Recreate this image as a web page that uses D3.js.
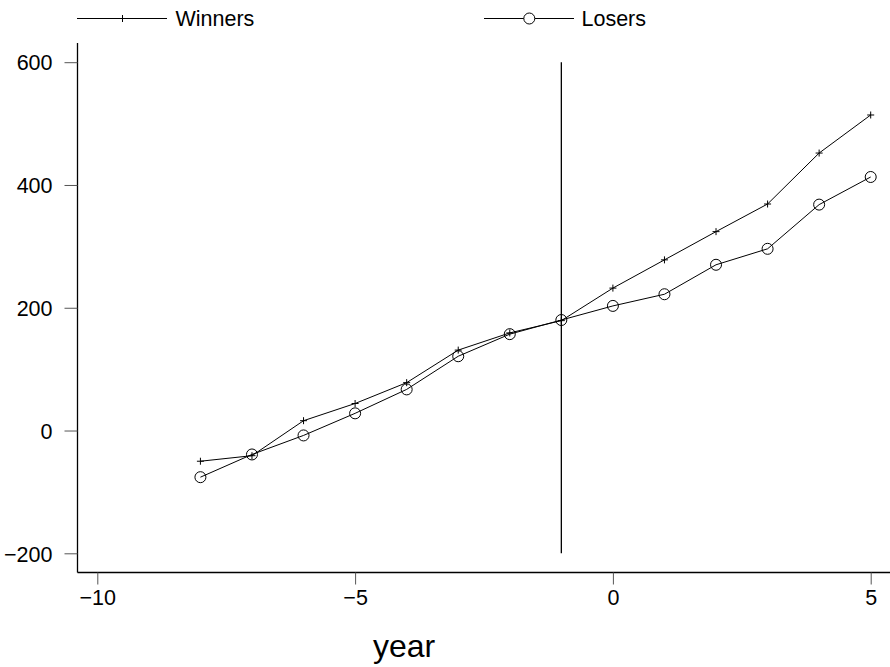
<!DOCTYPE html>
<html>
<head>
<meta charset="utf-8">
<script src="https://cdn.jsdelivr.net/npm/d3@7"></script>
<style>
  html, body { margin: 0; padding: 0; background: #fff; }
  svg { display: block; }
  text { font-family: "Liberation Sans", Arial, Helvetica, sans-serif; fill: #000; }
</style>
</head>
<body>
<svg id="chart" width="890" height="667"></svg>
<script>
const years   = [-8, -7, -6, -5, -4, -3, -2, -1, 0, 1, 2, 3, 4, 5];
const winners = [-50, -41, 16, 44, 78, 131, 159, 179, 232, 278, 324, 369, 452, 514];
const losers  = [-76, -39, -8, 28, 67, 121, 157, 180, 203, 222, 270, 296, 368, 413];
const xTicks  = [-10, -5, 0, 5];
const yTicks  = [-200, 0, 200, 400, 600];
const seriesNames = ["Winners", "Losers"];
const eventYear = -1;
const xLabel = "year";

const svg = d3.select("#chart");
const x = d3.scaleLinear().domain([-10, 5]).range([97.3, 870.7]);
const y = d3.scaleLinear().domain([-200, 600]).range([553.3, 62.2]);
const fmt = d => d < 0 ? "\u2212" + Math.abs(d) : String(d);

// axes lines
const axisX0 = 77.5, axisY0 = 572.5;
svg.append("line").attr("x1", axisX0).attr("x2", axisX0).attr("y1", 43).attr("y2", axisY0)
  .attr("stroke", "#000").attr("stroke-width", 1.3);
svg.append("line").attr("x1", axisX0).attr("x2", 890).attr("y1", axisY0).attr("y2", axisY0)
  .attr("stroke", "#000").attr("stroke-width", 1.3);

// y axis
const yAxis = d3.axisLeft(y).tickValues(yTicks).tickSize(13).tickPadding(12).tickFormat(fmt);
const gy = svg.append("g").attr("transform", `translate(${axisX0},0)`).call(yAxis);
gy.select(".domain").remove();
gy.selectAll(".tick line").attr("stroke", "#555").attr("stroke-width", 1);
gy.selectAll(".tick text").attr("font-size", 21.5).attr("font-family", null).attr("dy", "0.36em");

// x axis
const xAxis = d3.axisBottom(x).tickValues(xTicks).tickSize(12).tickPadding(4).tickFormat(fmt);
const gx = svg.append("g").attr("transform", `translate(0,${axisY0})`).call(xAxis);
gx.select(".domain").remove();
gx.selectAll(".tick line").attr("stroke", "#555").attr("stroke-width", 1);
gx.selectAll(".tick text").attr("font-size", 21.5).attr("font-family", null).attr("dy", "0.78em");

// x label
svg.append("text").attr("x", 404).attr("y", 657).attr("text-anchor", "middle")
  .attr("font-size", 32).text(xLabel);

// vertical reference line
svg.append("line").attr("x1", x(eventYear)).attr("x2", x(eventYear))
  .attr("y1", y(600)).attr("y2", y(-200)).attr("stroke", "#000").attr("stroke-width", 1.3);

const line = d3.line().x((d, i) => x(years[i])).y(d => y(d));

// series lines
svg.append("path").datum(winners).attr("d", line).attr("fill", "none").attr("stroke", "#000").attr("stroke-width", 1);
svg.append("path").datum(losers).attr("d", line).attr("fill", "none").attr("stroke", "#000").attr("stroke-width", 1);

// markers
const plusPath = (cx, cy, s) => `M${cx - s},${cy}H${cx + s}M${cx},${cy - s}V${cy + s}`;
svg.append("g").selectAll("path").data(winners).join("path")
  .attr("d", (d, i) => plusPath(x(years[i]), y(d), 3.5))
  .attr("stroke", "#000").attr("stroke-width", 1).attr("fill", "none");
svg.append("g").selectAll("circle").data(losers).join("circle")
  .attr("cx", (d, i) => x(years[i])).attr("cy", d => y(d)).attr("r", 5.5)
  .attr("fill", "none").attr("stroke", "#000").attr("stroke-width", 1);

// legend
const ly = 18.5;
svg.append("line").attr("x1", 77).attr("x2", 167).attr("y1", ly).attr("y2", ly).attr("stroke", "#000");
svg.append("path").attr("d", plusPath(122.5, ly, 3.5)).attr("stroke", "#000").attr("fill", "none");
svg.append("text").attr("x", 175.5).attr("y", 25.5).attr("font-size", 21.5).text(seriesNames[0]);

svg.append("line").attr("x1", 484).attr("x2", 574).attr("y1", ly).attr("y2", ly).attr("stroke", "#000");
svg.append("circle").attr("cx", 529.3).attr("cy", ly).attr("r", 5.5).attr("fill", "#fff").attr("stroke", "#000");
svg.append("text").attr("x", 581.5).attr("y", 25.5).attr("font-size", 21.5).text(seriesNames[1]);
</script>
</body>
</html>
